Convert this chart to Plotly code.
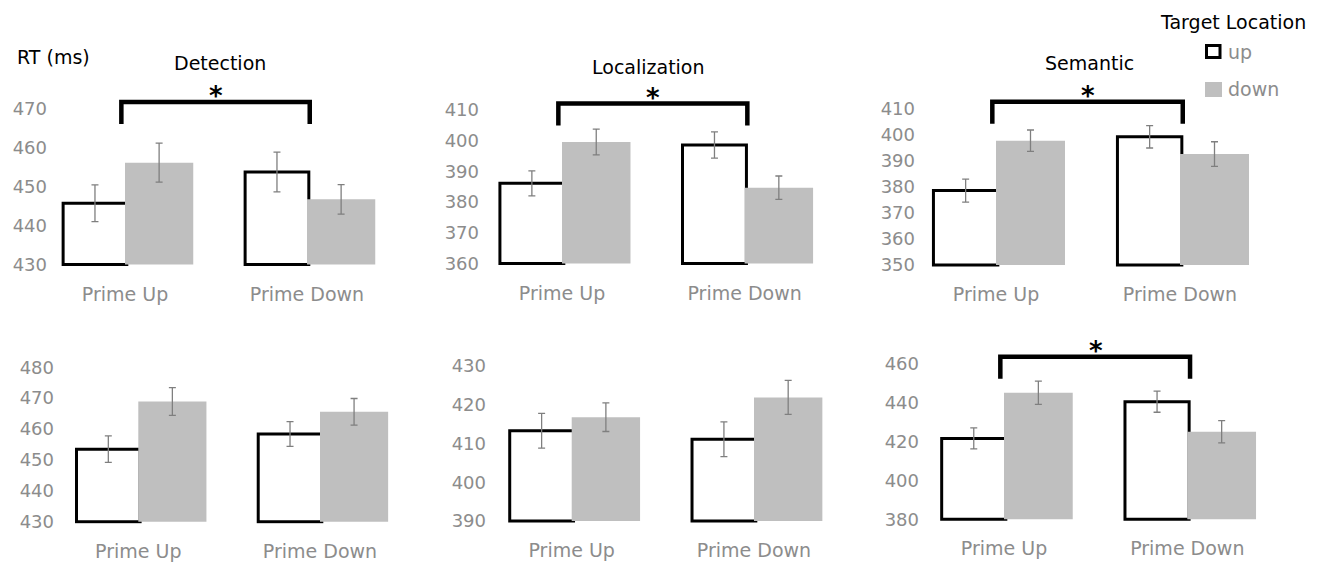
import plotly.graph_objects as go

W, H = 1322, 565

categories = ["Prime Up", "Prime Down"]
series_names = ["up", "down"]
titles = ["Detection", "Localization", "Semantic"]
y_label = "RT (ms)"
legend_title = "Target Location"

# Top row (first experiment)
det1_up = [445.7, 453.7]
det1_down = [456.1, 446.7]
det1_up_err = [4.7, 5.1]
det1_down_err = [5.0, 3.8]

loc1_up = [386.1, 398.6]
loc1_down = [399.6, 384.7]
loc1_up_err = [4.1, 4.3]
loc1_down_err = [4.2, 3.8]

sem1_up = [378.5, 399.1]
sem1_down = [397.6, 392.5]
sem1_up_err = [4.4, 4.3]
sem1_down_err = [4.1, 4.7]

# Bottom row (second experiment)
det2_up = [453.5, 458.4]
det2_down = [468.9, 465.6]
det2_up_err = [4.3, 4.0]
det2_down_err = [4.5, 4.3]

loc2_up = [413.3, 411.1]
loc2_down = [416.8, 421.9]
loc2_up_err = [4.5, 4.5]
loc2_down_err = [3.7, 4.4]

sem2_up = [421.5, 440.3]
sem2_down = [444.9, 424.9]
sem2_up_err = [5.4, 5.4]
sem2_down_err = [6.0, 5.7]

# axis ticks (min, max, step)
y_ticks = [
    (430, 470, 10), (360, 410, 10), (350, 410, 10),
    (430, 480, 10), (390, 430, 10), (380, 460, 20),
]
significant = [True, True, True, False, False, True]

data = [
    (det1_up, det1_down, det1_up_err, det1_down_err),
    (loc1_up, loc1_down, loc1_up_err, loc1_down_err),
    (sem1_up, sem1_down, sem1_up_err, sem1_down_err),
    (det2_up, det2_down, det2_up_err, det2_down_err),
    (loc2_up, loc2_down, loc2_up_err, loc2_down_err),
    (sem2_up, sem2_down, sem2_up_err, sem2_down_err),
]

# ---- layout geometry (pixels) ----
geo = [
    dict(x0=125, unit=182, lab=45, top=108.5, bot=264.5),
    dict(x0=562, unit=182.6, lab=477, top=110, bot=263.5),
    dict(x0=996, unit=184, lab=913, top=108.3, bot=265),
    dict(x0=138.3, unit=181.7, lab=52, top=367.3, bot=521.7),
    dict(x0=571.7, unit=182.3, lab=484, top=366, bot=521),
    dict(x0=1004, unit=183.3, lab=917, top=363.3, bot=519.3),
]

TICK_GRAY = "#8c8c8c"
BAR_GRAY = "#bfbfbf"
ERR_GRAY = "#7f7f7f"
FONT = "DejaVu Sans"


def px_x(p):
    return p / W


def px_y(p):
    return 1 - p / H


fig = go.Figure()
layout_axes = {}
shapes = []
annotations = []

for i, ((up, down, up_err, down_err), (lo, hi, step), g) in enumerate(zip(data, y_ticks, geo)):
    n = i + 1
    xa = "x" if n == 1 else f"x{n}"
    ya = "y" if n == 1 else f"y{n}"
    xpos = list(range(len(categories)))

    fig.add_trace(go.Bar(
        x=xpos, y=[v - lo for v in up], base=lo,
        name=series_names[0], xaxis=xa, yaxis=ya,
        width=0.35, offset=-0.34,
        marker=dict(color="white", line=dict(color="black", width=3)),
        error_y=dict(type="data", array=up_err, color=ERR_GRAY, thickness=1.3, width=3.5),
        showlegend=False,
    ))
    fig.add_trace(go.Bar(
        x=xpos, y=[v - lo for v in down], base=lo,
        name=series_names[1], xaxis=xa, yaxis=ya,
        width=0.375, offset=0.0,
        marker=dict(color=BAR_GRAY, line=dict(width=0)),
        error_y=dict(type="data", array=down_err, color=ERR_GRAY, thickness=1.3, width=3.5),
        showlegend=False,
    ))

    left_px = g["lab"] + 3
    right_px = g["x0"] + 1.42 * g["unit"]
    xr = [-(g["x0"] - left_px) / g["unit"], 1.42]
    pxper = (g["bot"] - g["top"]) / (hi - lo)
    pad = 2.0
    yr = [lo - pad / pxper, hi]

    xkey = "xaxis" if n == 1 else f"xaxis{n}"
    ykey = "yaxis" if n == 1 else f"yaxis{n}"
    layout_axes[xkey] = dict(
        domain=[px_x(left_px), px_x(right_px)], range=xr, anchor=ya,
        tickvals=xpos, ticktext=categories, showgrid=False, zeroline=False,
        showline=False, ticks="", ticklabelstandoff=14, automargin=False,
        tickfont=dict(family=FONT, size=19, color=TICK_GRAY), fixedrange=True,
    )
    layout_axes[ykey] = dict(
        domain=[px_y(g["bot"] + pad), px_y(g["top"])], range=yr, anchor=xa,
        tickvals=list(range(lo, hi + 1, step)), showgrid=False, zeroline=False,
        showline=False, ticks="", automargin=False,
        tickfont=dict(family=FONT, size=18, color=TICK_GRAY), fixedrange=True,
    )

    row_top = g["top"]
    if significant[i]:
        yb_top = px_y(row_top - 6.5)
        yb_bot = px_y(row_top + 15.5)
        shapes.append(dict(
            type="path", xref=xa, yref="paper",
            path=f"M -0.02,{yb_bot} L -0.02,{yb_top} L 1.015,{yb_top} L 1.015,{yb_bot}",
            line=dict(color="black", width=4.5),
        ))
        annotations.append(dict(
            x=0.5, y=px_y(row_top - 12), xref=xa, yref="paper",
            text="<b>*</b>", showarrow=False, yanchor="middle",
            font=dict(family=FONT, size=26, color="black"),
        ))

# panel titles
title_pos = [(220, 63), (648, 67), (1089, 63)]
for t, (tx, ty) in zip(titles, title_pos):
    annotations.append(dict(
        x=px_x(tx), y=px_y(ty), xref="paper", yref="paper", text=t,
        showarrow=False, font=dict(family=FONT, size=19, color="black"),
        xanchor="center", yanchor="middle",
    ))

annotations.append(dict(
    x=px_x(53), y=px_y(57), xref="paper", yref="paper", text=y_label,
    showarrow=False, font=dict(family=FONT, size=19, color="black"),
    xanchor="center", yanchor="middle",
))

# legend (drawn)
annotations.append(dict(
    x=px_x(1233), y=px_y(22), xref="paper", yref="paper", text=legend_title,
    showarrow=False, font=dict(family=FONT, size=19, color="black"),
    xanchor="center", yanchor="middle",
))
shapes.append(dict(type="rect", xref="paper", yref="paper",
                   x0=px_x(1206.5), x1=px_x(1220), y0=px_y(57.5), y1=px_y(45.5),
                   fillcolor="white", line=dict(color="black", width=3)))
shapes.append(dict(type="rect", xref="paper", yref="paper",
                   x0=px_x(1205), x1=px_x(1222), y0=px_y(97), y1=px_y(82),
                   fillcolor=BAR_GRAY, line=dict(width=0)))
annotations.append(dict(
    x=px_x(1226), y=px_y(52), xref="paper", yref="paper", text=series_names[0],
    showarrow=False, font=dict(family=FONT, size=19, color=TICK_GRAY),
    xanchor="left", yanchor="middle",
))
annotations.append(dict(
    x=px_x(1226), y=px_y(89), xref="paper", yref="paper", text=series_names[1],
    showarrow=False, font=dict(family=FONT, size=19, color=TICK_GRAY),
    xanchor="left", yanchor="middle",
))

fig.update_layout(
    width=W, height=H,
    margin=dict(l=0, r=0, t=0, b=0, autoexpand=False),
    paper_bgcolor="white", plot_bgcolor="white",
    barmode="overlay", showlegend=False,
    shapes=shapes, annotations=annotations,
    font=dict(family=FONT),
    **layout_axes,
)

fig.write_html(
    "out.html",
    config={"displayModeBar": False},
    post_script="document.body.style.margin='0';document.body.style.overflow='hidden';",
)
